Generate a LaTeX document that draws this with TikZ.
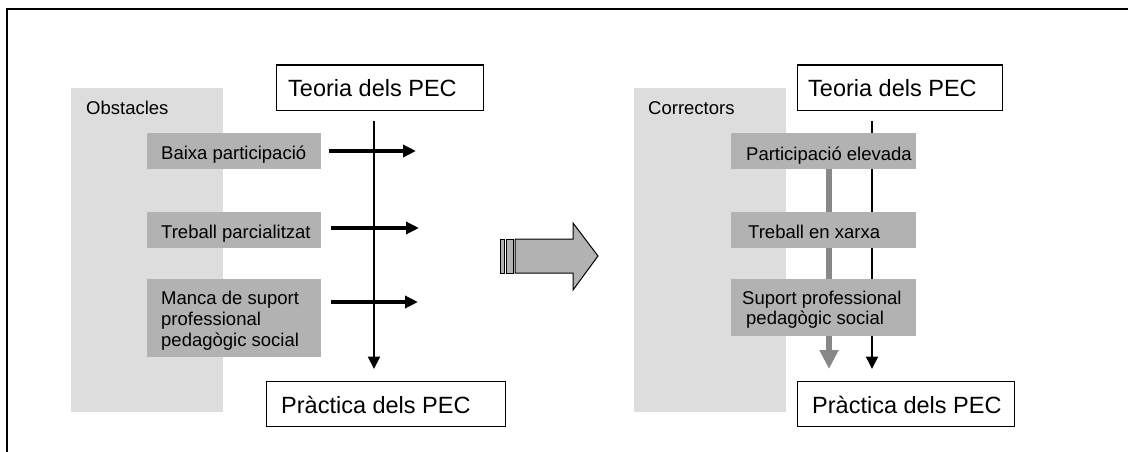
\documentclass[tikz,border=0pt]{standalone}
\usepackage{fontspec}
\setmainfont{Liberation Sans}
\usetikzlibrary{arrows.meta}
\definecolor{lightbg}{HTML}{DDDDDD}
\definecolor{boxgray}{HTML}{B2B2B2}
\definecolor{arrowgray}{HTML}{888888}
\tikzset{
  panel/.style={fill=lightbg, inner sep=0pt, anchor=north west},
  gbox/.style={fill=boxgray, inner sep=0pt, anchor=north west},
  titlebox/.style={draw, line width=1.4pt, fill=white, inner sep=0pt, anchor=north west},
  ttxt/.style={font=\fontsize{23.5}{28}\selectfont, anchor=base west, inner sep=0pt},
  stxt/.style={font=\fontsize{18.5}{21.5}\selectfont, anchor=base west, inner sep=0pt},
  flow/.style={-{Triangle[length=12.5pt,width=12pt]}, line width=2.2pt},
  hflow/.style={-{Triangle[length=13pt,width=12pt]}, line width=4.5pt},
  grayflow/.style={-{Triangle[length=19pt,width=18pt]}, line width=6.5pt, draw=arrowgray, color=arrowgray},
  blockarrow/.style={fill=boxgray, draw=black, line width=1pt, line join=miter}
}
\begin{document}
\begin{tikzpicture}[x=1pt,y=-1pt]
\useasboundingbox (0,0) rectangle (1128,452);
\fill[white] (0,0) rectangle (1128,452);
% outer frame (open at right and bottom)
\draw[line width=1.5pt] (7,452) -- (7,9) -- (1128,9);

% ---------------- left panel ----------------
\node[panel, minimum width=152pt, minimum height=324pt] (obs) at (71,88) {};
\node[stxt] (obst) at (86,114) {Obstacles};

\node[gbox, minimum width=174pt, minimum height=36pt] (b1) at (147,133) {};
\node[gbox, minimum width=174pt, minimum height=35.5pt] (b2) at (147,212) {};
\node[gbox, minimum width=174pt, minimum height=78pt] (b3) at (147,279) {};
\node[stxt] (b1t) at (161,159.5) {Baixa participació};
\node[stxt] (b2t) at (161,238) {Treball parcialitzat};
\node[stxt] (b3a) at (161,304) {Manca de suport};
\node[stxt] (b3b) at (161,325) {professional};
\node[stxt] (b3c) at (161,346) {pedagògic social};

\node[titlebox, minimum width=207pt, minimum height=45.5pt] (teoL) at (276,64.5) {};
\node[ttxt] (teoLt) at (288,96) {Teoria dels PEC};
\node[titlebox, minimum width=239pt, minimum height=45pt] (praL) at (266,381) {};
\node[ttxt] (praLt) at (281,413) {Pràctica dels PEC};

\coordinate (h1s) at (329,151);
\coordinate (h1e) at (416,151);
\coordinate (h2s) at (331,228);
\coordinate (h2e) at (419,228);
\coordinate (h3s) at (331,302);
\coordinate (h3e) at (418,302);
\draw[hflow] (h1s) -- (h1e);
\draw[hflow] (h2s) -- (h2e);
\draw[hflow] (h3s) -- (h3e);
\coordinate (vLs) at (374,121);
\coordinate (vLe) at (374,369);
\draw[flow] (vLs) -- (vLe);

% ---------------- middle block arrow ----------------
\filldraw[blockarrow] (500,239) rectangle (504,273);
\filldraw[blockarrow] (506,239) rectangle (513,273);
\filldraw[blockarrow] (515,239) -- (573,239) -- (573,223) -- (598,256) -- (573,290) -- (573,273) -- (515,273) -- cycle;

% ---------------- right panel ----------------
\node[panel, minimum width=152pt, minimum height=324pt] (cor) at (634,88) {};
\node[stxt] (cort) at (648,114) {Correctors};

\node[titlebox, minimum width=205pt, minimum height=45.5pt] (teoR) at (797,64.5) {};
\node[ttxt] (teoRt) at (808,96) {Teoria dels PEC};
\node[titlebox, minimum width=217pt, minimum height=45pt] (praR) at (797,381) {};
\node[ttxt] (praRt) at (812,413) {Pràctica dels PEC};

\coordinate (vRs) at (872,121);
\coordinate (vRe) at (872,369);
\draw[flow, line width=2pt] (vRs) -- (vRe);
\coordinate (gs) at (829,169);
\coordinate (ge) at (829,369);
\draw[grayflow] (gs) -- (ge);

\node[gbox, minimum width=185pt, minimum height=36pt] (c1) at (731,133) {};
\node[gbox, minimum width=185pt, minimum height=35.5pt] (c2) at (731,212) {};
\node[gbox, minimum width=185pt, minimum height=57pt] (c3) at (731,279) {};
\node[stxt] (c1t) at (746,160) {Participació elevada};
\node[stxt] (c2t) at (748,238) {Treball en xarxa};
\node[stxt] (c3a) at (742,304) {Suport professional};
\node[stxt] (c3b) at (746,324.5) {pedagògic social};
\end{tikzpicture}
\end{document}
